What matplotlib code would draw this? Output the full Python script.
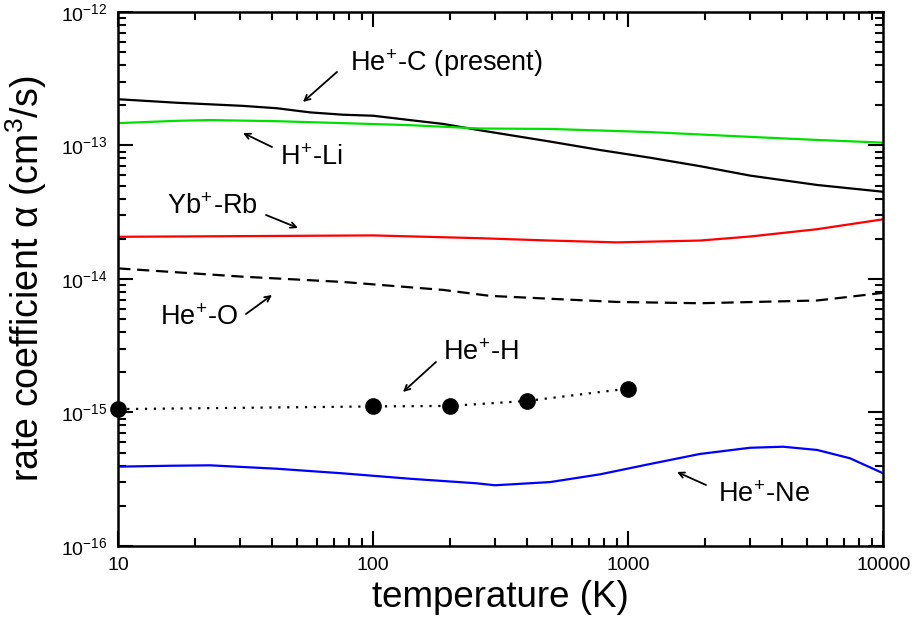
import matplotlib
matplotlib.use("Agg")
import matplotlib.pyplot as plt
from matplotlib.ticker import LogLocator, FuncFormatter, NullFormatter, FixedLocator

plt.rcParams['font.family'] = ['Liberation Sans', 'DejaVu Sans']
plt.rcParams['mathtext.fontset'] = 'custom'
plt.rcParams['mathtext.rm'] = 'Liberation Sans'
plt.rcParams['mathtext.it'] = 'Liberation Sans:italic'

# He+-C (present)
T_heC = [10, 16.9, 30.8, 41.9, 56.4, 76, 100, 139, 188, 262, 493, 774, 1216,
         1910, 3000, 5500, 10000]
a_heC = [2.22e-13, 2.09e-13, 1.98e-13, 1.90e-13, 1.77e-13, 1.70e-13, 1.67e-13,
         1.55e-13, 1.45e-13, 1.30e-13, 1.07e-13, 9.25e-14, 8.1e-14, 7.0e-14,
         5.95e-14, 5.06e-14, 4.5e-14]
# H+-Li
T_hLi = [10, 16.9, 22.9, 41.9, 76, 139, 262, 493, 1216, 3000, 5500, 10000]
a_hLi = [1.47e-13, 1.53e-13, 1.55e-13, 1.52e-13, 1.47e-13, 1.42e-13, 1.34e-13,
         1.33e-13, 1.26e-13, 1.16e-13, 1.10e-13, 1.05e-13]
# Yb+-Rb
T_ybRb = [10, 100, 262, 493, 902, 1910, 3000, 5500, 10000]
a_ybRb = [2.07e-14, 2.12e-14, 2.02e-14, 1.94e-14, 1.88e-14, 1.94e-14, 2.08e-14,
          2.36e-14, 2.8e-14]
# He+-O
T_heO = [10, 30.8, 76, 188, 287, 902, 1910, 5500, 7400, 10000]
a_heO = [1.20e-14, 1.04e-14, 9.5e-15, 8.28e-15, 7.47e-15, 6.73e-15, 6.58e-15,
         6.9e-15, 7.36e-15, 7.88e-15]
# He+-H
T_heH = [10, 100, 200, 400, 1000]
a_heH = [1.06e-15, 1.11e-15, 1.12e-15, 1.22e-15, 1.51e-15]
# He+-Ne
T_heNe = [10, 16, 22.9, 41.9, 76, 139, 253, 300, 493, 774, 1216, 1910, 3000,
          4043, 5500, 7400, 10000]
a_heNe = [3.93e-16, 3.99e-16, 4.02e-16, 3.79e-16, 3.5e-16, 3.19e-16, 2.95e-16,
          2.85e-16, 3.01e-16, 3.44e-16, 4.11e-16, 4.89e-16, 5.44e-16, 5.54e-16,
          5.24e-16, 4.54e-16, 3.5e-16]

x_ticks = [10, 100, 1000, 10000]
y_ticks = [1e-16, 1e-15, 1e-14, 1e-13, 1e-12]

fig = plt.figure(figsize=(9.14, 6.17), dpi=100)
ax = fig.add_axes([0.1294, 0.1151, 0.837, 0.8655])

lw = 1.6
ax.plot(T_heC, a_heC, color='black', lw=lw)
ax.plot(T_hLi, a_hLi, color='#00e000', lw=lw)
ax.plot(T_ybRb, a_ybRb, color='red', lw=lw)
ax.plot(T_heO, a_heO, color='black', lw=lw, linestyle=(0, (5.5, 3)))
ax.plot(T_heH, a_heH, color='black', lw=1.6, linestyle=(0, (1, 3)),
        marker='o', markersize=11, clip_on=False)
ax.plot(T_heNe, a_heNe, color='blue', lw=lw)

ax.set_xscale('log')
ax.set_yscale('log')
ax.set_xlim(10, 10000)
ax.set_ylim(1e-16, 1e-12)

ax.set_xticks(x_ticks)
ax.set_yticks(y_ticks)
ax.xaxis.set_major_formatter(FuncFormatter(lambda v, p: f"{int(round(v))}"))
ax.xaxis.set_minor_locator(LogLocator(base=10, subs=range(2, 10)))
ax.xaxis.set_minor_formatter(NullFormatter())
ax.yaxis.set_minor_locator(LogLocator(base=10, subs=range(2, 10)))
ax.yaxis.set_minor_formatter(NullFormatter())

ax.tick_params(which='both', direction='in', top=True, right=True, width=1.5)
ax.tick_params(which='major', length=11, labelsize=14, pad=8)
ax.tick_params(which='minor', length=6, labelleft=False, labelbottom=False)
for s in ax.spines.values():
    s.set_linewidth(1.8)

ax.set_xlabel('temperature (K)', fontsize=26.5, labelpad=4)
ax.set_ylabel(r'rate coefficient α (cm$^3$/s)', fontsize=27, labelpad=8)

def fx(px):
    return (px - 118.3) / 765.0

def fy(py):
    return (546.0 - py) / 534.0

arrowprops = dict(arrowstyle='->', color='black', lw=1.3, shrinkA=0, shrinkB=0)
sup = r'$^{\!+\!}$'
annots = [
    ('He' + sup + '-C (present)', (350, 63), (337, 72), (303, 102), 'left'),
    ('H' + sup + '-Li', (280, 158), (272, 147), (243, 133), 'left'),
    ('Yb' + sup + '-Rb', (258, 207), (266, 215), (298, 228), 'right'),
    ('He' + sup + '-O', (239, 318), (246, 314), (272, 295), 'right'),
    ('He' + sup + '-H', (443, 353), (436, 362), (403, 392), 'left'),
    ('He' + sup + '-Ne', (718, 495), (706, 485), (677, 472), 'left'),
]
for text, tpos, a0, a1, ha in annots:
    ax.text(fx(tpos[0]), fy(tpos[1]), text, transform=ax.transAxes,
            fontsize=19.5, ha=ha, va='center')
    ax.annotate('', xy=(fx(a1[0]), fy(a1[1])), xycoords='axes fraction',
                xytext=(fx(a0[0]), fy(a0[1])), textcoords='axes fraction',
                arrowprops=arrowprops)

fig.savefig('out.png', dpi=100)
